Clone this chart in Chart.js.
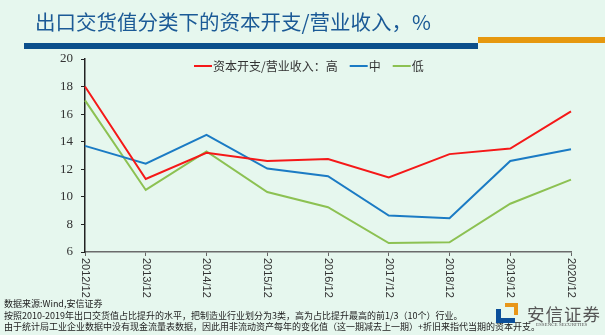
<!DOCTYPE html>
<html>
<head>
<meta charset="utf-8">
<script src="https://cdn.jsdelivr.net/npm/chart.js@4.4.0/dist/chart.umd.min.js"></script>
<style>
  html, body { margin: 0; padding: 0; background: #E6F7EE; }
  #wrap { position: relative; width: 605px; height: 335px; overflow: hidden; background: #E6F7EE; }
  #myChart { position: absolute; left: 0; top: 0; }
  .title { position: absolute; left: 35px; top: 6px; font: 20.5px "Noto Sans CJK SC", sans-serif; color: #1B5A96; white-space: nowrap; }
  .barBlue { position: absolute; left: 24px; top: 43px; width: 454px; height: 6px; background: #0B4F8C; }
  .barOrange { position: absolute; left: 478px; top: 37px; width: 127px; height: 6px; background: #E6980F; }
  .note { position: absolute; left: 4px; font: 9px "Noto Sans CJK SC", sans-serif; color: #222; white-space: nowrap; }
  .logoTxt { position: absolute; left: 527px; top: 301px; font: 17.5px "Noto Sans CJK SC", sans-serif; color: #555; letter-spacing: 1px; }
  .logoSub { position: absolute; left: 536px; top: 322px; font: 5px "Liberation Serif", serif; color: #555; }
  .icB { position: absolute; left: 496px; top: 309px; width: 14px; height: 9px; border-left: 5px solid #0B4F9A; border-bottom: 5px solid #0B4F9A; }
  .icO { position: absolute; left: 505px; top: 303px; width: 9px; height: 8px; border-top: 4px solid #E8961A; border-right: 4px solid #E8961A; }
</style>
</head>
<body>
<div id="wrap">
  <canvas id="myChart" width="605" height="335"></canvas>
  <div class="title">出口交货值分类下的资本开支/营业收入，%</div>
  <div class="barBlue"></div>
  <div class="barOrange"></div>
  <div class="note" style="top:297px">数据来源:Wind,安信证券</div>
  <div class="note" style="top:309px">按照2010-2019年出口交货值占比提升的水平，把制造业行业划分为3类，高为占比提升最高的前1/3（10个）行业。</div>
  <div class="note" style="top:320px">由于统计局工业企业数据中没有现金流量表数据，因此用非流动资产每年的变化值（这一期减去上一期）+折旧来指代当期的资本开支。</div>
  <div class="icB"></div>
  <div class="icO"></div>
  <div class="logoTxt">安信证券</div>
  <div class="logoSub">ESSENCE SECURITIES</div>
</div>
<script>
// Données
const categories = ['2012/12', '2013/12', '2014/12', '2015/12', '2016/12', '2017/12', '2018/12', '2019/12', '2020/12'];
const seriesHigh = [18.0, 11.3, 13.2, 12.6, 12.75, 11.4, 13.1, 13.5, 16.2];
const seriesMid  = [13.7, 12.4, 14.5, 12.05, 11.5, 8.65, 8.45, 12.6, 13.45];
const seriesLow  = [17.0, 10.5, 13.3, 10.35, 9.25, 6.65, 6.7, 9.5, 11.25];
const seriesNames = ['资本开支/营业收入：高', '中', '低'];
const yTicks = [6, 8, 10, 12, 14, 16, 18, 20];

const colors = ['#F51818', '#1B7BC4', '#8CC152'];

// Légende dessinée dans la zone du graphique
const legendPlugin = {
    id: 'customLegend',
    afterDraw(chart) {
        const ctx = chart.ctx;
        const y = 66;
        let x = 194;
        ctx.save();
        ctx.font = '12px "Noto Sans CJK SC", sans-serif';
        ctx.textBaseline = 'middle';
        chart.data.datasets.forEach((ds, i) => {
            ctx.strokeStyle = ds.borderColor;
            ctx.lineWidth = 2;
            ctx.beginPath();
            ctx.moveTo(x, y);
            ctx.lineTo(x + 18, y);
            ctx.stroke();
            x += 19;
            ctx.fillStyle = '#333';
            ctx.fillText(ds.label, x, y);
            x += ctx.measureText(ds.label).width + 12;
        });
        ctx.restore();
    }
};

// Étiquettes de l'axe X tournées (lecture de haut en bas)
const xLabelPlugin = {
    id: 'xLabels',
    afterDraw(chart) {
        const ctx = chart.ctx;
        const xs = chart.scales.x;
        ctx.save();
        ctx.font = '11px "Liberation Sans", sans-serif';
        ctx.fillStyle = '#333';
        ctx.textAlign = 'left';
        ctx.textBaseline = 'middle';
        categories.forEach((lab, i) => {
            const x = xs.getPixelForValue(i);
            ctx.save();
            ctx.translate(x, xs.top + 6);
            ctx.rotate(Math.PI / 2);
            ctx.fillText(lab, 0, 0);
            ctx.restore();
        });
        ctx.restore();
    }
};

const config = {
    type: 'line',
    data: {
        labels: categories,
        datasets: [
            { label: seriesNames[0], data: seriesHigh, borderColor: colors[0], borderWidth: 2, pointRadius: 0, tension: 0 },
            { label: seriesNames[1], data: seriesMid, borderColor: colors[1], borderWidth: 2, pointRadius: 0, tension: 0 },
            { label: seriesNames[2], data: seriesLow, borderColor: colors[2], borderWidth: 2, pointRadius: 0, tension: 0 }
        ]
    },
    options: {
        responsive: false,
        animation: false,
        devicePixelRatio: 1,
        layout: { padding: { left: 0, top: 59, right: 34, bottom: 0 } },
        scales: {
            x: {
                offset: false,
                grid: { drawOnChartArea: false, drawTicks: true, tickLength: 4, color: '#666' },
                border: { display: true, color: '#6B6B6B', width: 1.5 },
                ticks: { display: false },
                afterFit: (s) => { s.height = 83; }
            },
            y: {
                min: 6,
                max: 20,
                afterBuildTicks: (s) => { s.ticks = yTicks.map(v => ({ value: v })); },
                grid: { drawOnChartArea: false, drawTicks: true, tickLength: 4, color: '#222' },
                border: { display: true, color: '#222', width: 1.5 },
                ticks: {
                    padding: 8,
                    color: '#333',
                    font: { family: '"Liberation Serif", serif', size: 13 }
                },
                afterFit: (s) => { s.width = 85; }
            }
        },
        plugins: {
            legend: { display: false },
            tooltip: { enabled: false }
        }
    },
    plugins: [legendPlugin, xLabelPlugin]
};

new Chart(document.getElementById('myChart').getContext('2d'), config);
</script>
</body>
</html>
